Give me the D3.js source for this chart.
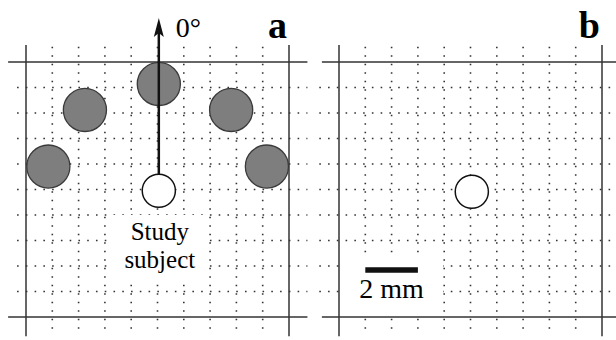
<!DOCTYPE html>
<html>
<head>
<meta charset="utf-8">
<script src="https://cdn.jsdelivr.net/npm/d3@7"></script>
</head>
<body style="margin:0">
<svg id="chart" width="616" height="340"></svg>
<script>
// positions in mm on the 10 x 10 mm grid
var gridLines = [1, 2, 3, 4, 5, 6, 7, 8, 9];
var frameLines = [0, 10];
var panels = ["a", "b"];
var neighbourX = [0.85, 2.24, 5.05, 7.8, 9.16];
var neighbourY = [4.1, 1.88, 0.86, 1.88, 4.1];
var neighbourR = 0.82;
var subjectX = 5.05;
var subjectY = 5.05;
var subjectR = 0.63;
var subjectLabel = ["Study", "subject"];
var arrowTip = -1.73;
var scaleBar = [1, 3];
var scaleBarY = 8.16;
var scaleLabel = "2 mm";

var svg = d3.select("#chart").style("font-family", "Liberation Serif");

var y = d3.scaleLinear().domain([0, 10]).range([62, 317]);
var xScales = {
    a: d3.scaleLinear().domain([0, 10]).range([26, 289]),
    b: d3.scaleLinear().domain([0, 10]).range([339, 602])
};

//grid + frame for each panel
panels.forEach(function(p) {
    var x = xScales[p];
    var g = svg.append("g").attr("class", "panel-" + p);
    var left = p == "a" ? -0.34 : -0.75;
    var right = p == "a" ? 10.7 : 10.8;

    g.selectAll("line.hdot").data(gridLines).enter().append("line")
        .attr("x1", x(left)).attr("x2", x(right))
        .attr("y1", function(d) { return y(d); })
        .attr("y2", function(d) { return y(d); })
        .style("stroke", "#333")
        .style("stroke-width", 1.6)
        .style("stroke-dasharray", "1.6," + ((x(1) - x(0)) / 3 - 1.6));

    g.selectAll("line.vdot").data(gridLines).enter().append("line")
        .attr("x1", function(d) { return x(d); })
        .attr("x2", function(d) { return x(d); })
        .attr("y1", y(-0.6)).attr("y2", y(10.7))
        .style("stroke", "#333")
        .style("stroke-width", 1.6)
        .style("stroke-dasharray", "1.6," + ((y(1) - y(0)) / 3 - 1.6));

    g.selectAll("line.hframe").data(frameLines).enter().append("line")
        .attr("x1", x(p == "a" ? -0.68 : -0.65)).attr("x2", x(right))
        .attr("y1", function(d) { return y(d); })
        .attr("y2", function(d) { return y(d); })
        .style("stroke", "#333")
        .style("stroke-width", 1.5);

    g.selectAll("line.vframe").data(frameLines).enter().append("line")
        .attr("x1", function(d) { return x(d); })
        .attr("x2", function(d) { return x(d); })
        .attr("y1", y(-0.67)).attr("y2", y(10.75))
        .style("stroke", "#333")
        .style("stroke-width", 1.5);

    g.append("text")
        .attr("x", x(10) - 2).attr("y", 38)
        .attr("text-anchor", "end")
        .style("font-size", "38px")
        .style("font-weight", "bold")
        .text(p);
});

var xa = xScales.a;
var xb = xScales.b;
var rx = function(sc, r) { return sc(r) - sc(0); };

//panel a: label box behind the text
svg.append("rect")
    .attr("x", 107).attr("y", 215)
    .attr("width", 99).attr("height", 67)
    .style("fill", "#fff");

svg.append("g").selectAll("circle").data(neighbourX).enter().append("circle")
    .attr("cx", function(d) { return xa(d); })
    .attr("cy", function(d, i) { return y(neighbourY[i]); })
    .attr("r", rx(xa, neighbourR))
    .style("fill", "#7e7e7e")
    .style("stroke", "#3a3a3a")
    .style("stroke-width", 1.3);

svg.append("circle")
    .attr("cx", xa(subjectX)).attr("cy", y(subjectY))
    .attr("r", rx(xa, subjectR))
    .style("fill", "#fff")
    .style("stroke", "#111")
    .style("stroke-width", 1.5);

//arrow pointing to 0 deg
var ax = xa(subjectX);
svg.append("line")
    .attr("x1", ax).attr("x2", ax)
    .attr("y1", y(subjectY) - rx(xa, subjectR))
    .attr("y2", y(arrowTip) + 10)
    .style("stroke", "#111")
    .style("stroke-width", 2.5);
svg.append("path")
    .attr("d", "M" + ax + "," + y(arrowTip) +
        "L" + (ax - 5) + "," + (y(arrowTip) + 19) +
        "L" + ax + "," + (y(arrowTip) + 15) +
        "L" + (ax + 5) + "," + (y(arrowTip) + 19) + "Z")
    .style("fill", "#111");

svg.append("text").attr("x", ax + 17).attr("y", 37)
    .style("font-size", "28px")
    .text("0°");

// two-line label kept in one text element
svg.append("text")
    .attr("x", ax + 1).attr("y", 240)
    .attr("text-anchor", "middle")
    .style("font-size", "25px")
    .selectAll("tspan").data(subjectLabel).enter().append("tspan")
    .attr("x", ax + 1)
    .attr("dy", function(d, i) { return i == 0 ? 0 : 28; })
    .text(function(d) { return d; });

//panel b
svg.append("rect")
    .attr("x", 345).attr("y", 258)
    .attr("width", 98).attr("height", 54)
    .style("fill", "#fff");

svg.append("circle")
    .attr("cx", xb(subjectX)).attr("cy", y(subjectY) + 1)
    .attr("r", rx(xb, subjectR))
    .style("fill", "#fff")
    .style("stroke", "#111")
    .style("stroke-width", 1.5);

svg.append("line")
    .attr("x1", xb(scaleBar[0])).attr("x2", xb(scaleBar[1]))
    .attr("y1", y(scaleBarY)).attr("y2", y(scaleBarY))
    .style("stroke", "#111")
    .style("stroke-width", 5.5);

svg.append("text").attr("x", xb(scaleBar[0]) - 6).attr("y", 298)
    .style("font-size", "28px")
    .text(scaleLabel);
</script>
</body>
</html>
